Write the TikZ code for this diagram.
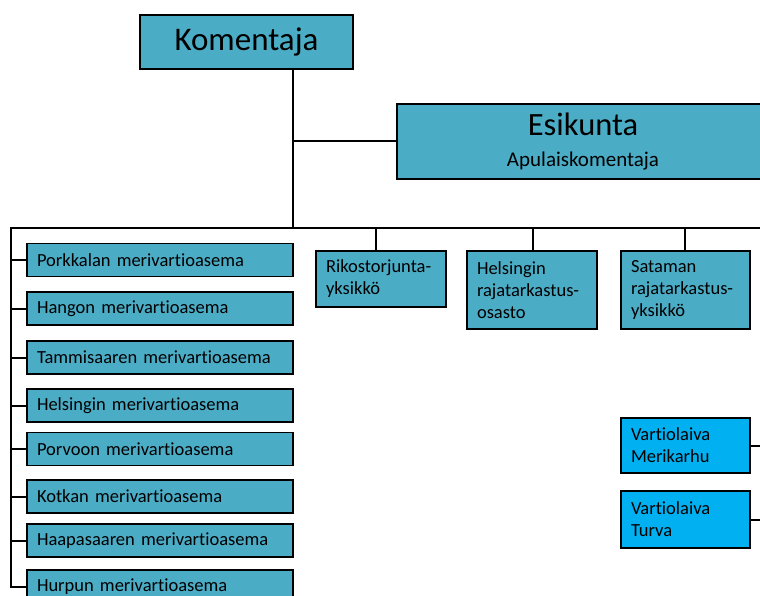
\documentclass[tikz,border=0pt]{standalone}
\usepackage{fontspec}
\setmainfont[Ligatures=NoCommon]{Carlito}
\usepackage{xcolor}
\usetikzlibrary{positioning}

\definecolor{unitblue}{HTML}{4BACC6}
\definecolor{shipblue}{HTML}{00B0F0}

\begin{document}
\begin{tikzpicture}[x=1pt,y=-1pt,
	head/.style={draw=black, line width=1.8pt, fill=unitblue, inner sep=0pt},
	station/.style={draw=black, line width=1.2pt, fill=unitblue, minimum height=33,
		text width=246, inner xsep=10, inner ysep=0, align=left,
		font=\fontsize{18.5}{22}\selectfont},
	office/.style={draw=black, line width=1.2pt, fill=unitblue, text width=110,
		inner xsep=10, inner ysep=0, align=left,
		font=\fontsize{18.5}{22}\selectfont},
	ship/.style={office, fill=shipblue},
	link/.style={line width=2pt, black}]
	
	\clip (0,0) rectangle (760,596);
	
	% top of the tree
	\node [head, minimum width=213, minimum height=54, font=\fontsize{33}{33}\selectfont] (komentaja) at (246.5,42) {Komentaja};
	
	\node [head, line width=1.2pt, minimum width=372, minimum height=75, align=center, font=\fontsize{21}{31}\selectfont] (esikunta) at (583,141.5) {{\fontsize{32.5}{32}\selectfont Esikunta}\\Apulaiskomentaja};
	
	% stations on the left
	\foreach \name/\y/\txt in {porkkala/260/Porkkalan merivartioasema,
		hanko/308.5/Hangon merivartioasema,
		tammisaari/357.5/Tammisaaren merivartioasema,
		helsinki/405.5/Helsingin merivartioasema,
		porvoo/449/Porvoon merivartioasema,
		kotka/496.5/Kotkan merivartioasema,
		haapasaari/540.5/Haapasaaren merivartioasema,
		hurppu/586.5/Hurpun merivartioasema}
		\node [station] (\name) at (160,\y) {\txt};
	
	% offices under the bus
	\node [office, minimum height=56] (rikos) at (381,279) {Rikostorjunta-\\yksikkö};
	\node [office, minimum height=78] (helraja) at (532,290) {Helsingin\\rajatarkastus-\\osasto};
	\node [office, minimum height=78, text width=109] (satama) at (685.5,290) {Sataman\\rajatarkastus-\\yksikkö};
	
	% ships
	\node [ship, minimum height=55, text width=109] (merikarhu) at (685.5,445.5) {Vartiolaiva\\Merikarhu};
	\node [ship, minimum height=57, text width=109] (turva) at (685.5,519.5) {Vartiolaiva\\Turva};
	
	\coordinate (top) at (293,228);
	\coordinate (left) at (11,228);
	\coordinate (right) at (775,228);
	
	\draw [link] (top |- komentaja.south) -- (top);
	\draw [link] (top |- esikunta.west) -- (esikunta.west);
	\draw [link] (right) -- (left) -- (left |- hurppu.west) -- (hurppu.west);
	
	\foreach \n in {porkkala,hanko,tammisaari,helsinki,porvoo,kotka,haapasaari}
		\draw [link] (left |- \n.west) -- (\n.west);
	
	\foreach \n/\x in {rikos/376,helraja/533,satama/685}{
		\coordinate (\n tap) at (\x,228);
		\draw [link] (\n tap) -- (\n tap |- \n.north);
	}
	
	\draw [link] (merikarhu.east) -- (merikarhu.east -| right);
	\draw [link] (turva.east) -- (turva.east -| right);
	
\end{tikzpicture}
\end{document}
